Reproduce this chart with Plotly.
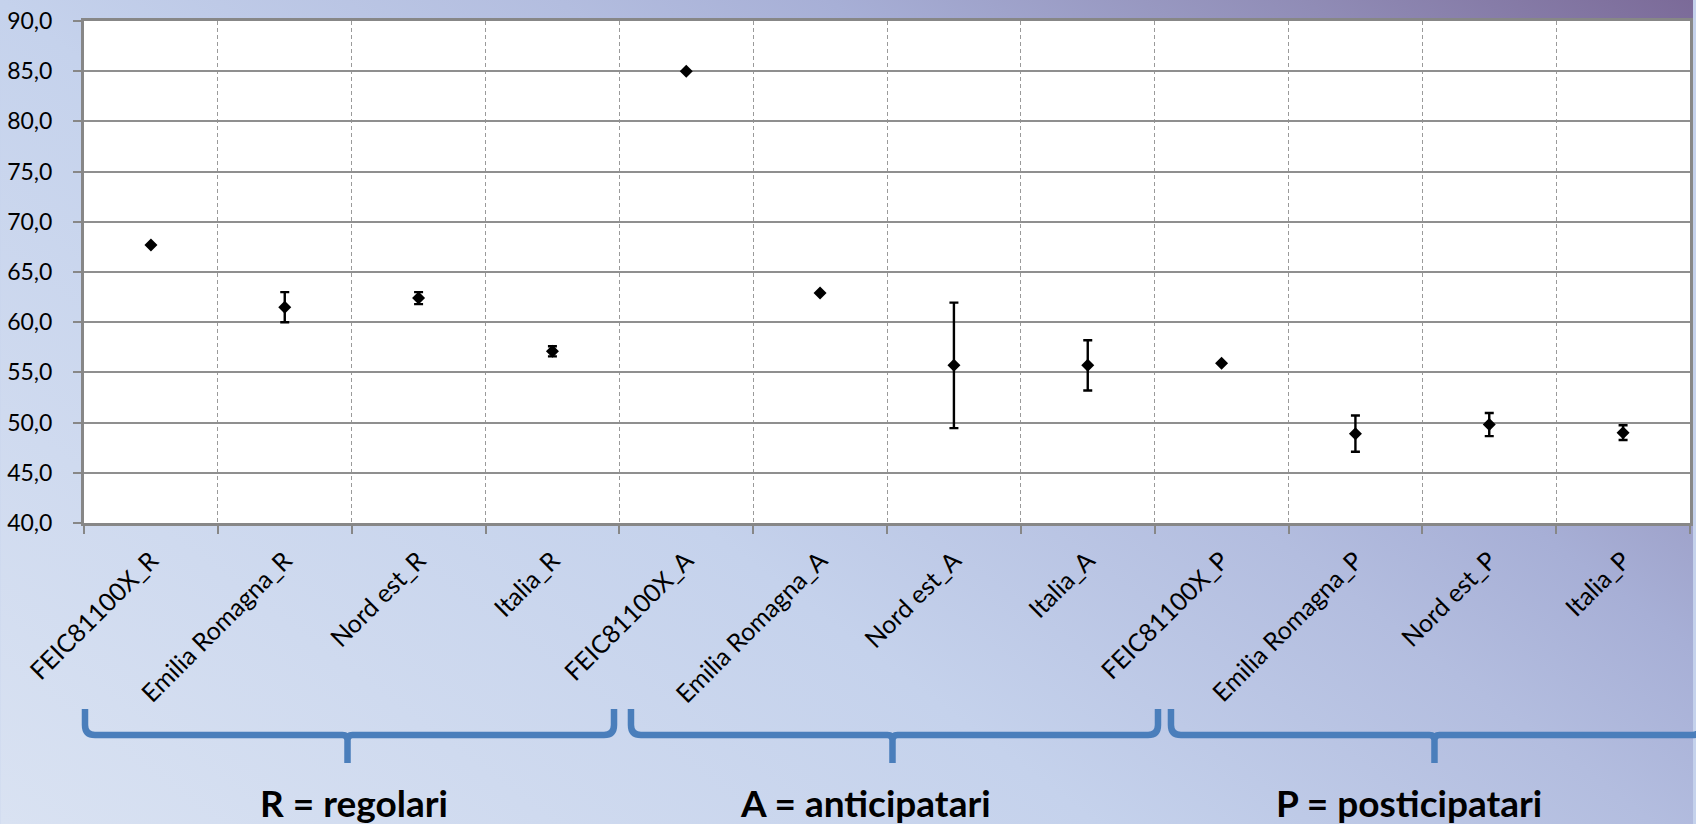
import base64
import plotly.graph_objects as go

# ---------------- data ----------------
categories = [
    "FEIC81100X_R", "Emilia Romagna_R", "Nord est_R", "Italia_R",
    "FEIC81100X_A", "Emilia Romagna_A", "Nord est_A", "Italia_A",
    "FEIC81100X_P", "Emilia Romagna_P", "Nord est_P", "Italia_P",
]
values = [67.7, 61.5, 62.4, 57.1, 85.0, 62.9, 55.7, 55.7, 55.9, 48.9, 49.8, 49.0]
errors = [0.0, 1.5, 0.6, 0.5, 0.0, 0.0, 6.25, 2.5, 0.0, 1.8, 1.15, 0.73]
group_labels = ["R = regolari", "A = anticipatari", "P = posticipatari"]

# ---------------- layout geometry ----------------
W, H = 1696, 824
ML, MR, MT, MB = 84, 3, 21, 301
PW, PH = W - ML - MR, H - MT - MB


def px_x(p):
    return (p - ML) / PW


def px_y(p):
    return (H - MB - p) / PH


# background gradient (page-like backdrop)
svg = f'''<svg xmlns="http://www.w3.org/2000/svg" width="{W}" height="{H}" viewBox="0 0 {W} {H}">
<defs><linearGradient id="g" gradientUnits="userSpaceOnUse" x1="0" y1="824" x2="1006" y2="-518">
<stop offset="0" stop-color="#d9e2f2"/>
<stop offset="0.393" stop-color="#c5d2ec"/>
<stop offset="0.593" stop-color="#b3bddf"/>
<stop offset="0.69" stop-color="#a7afd6"/>
<stop offset="0.86" stop-color="#908cb6"/>
<stop offset="1" stop-color="#7b6a98"/>
</linearGradient></defs>
<rect width="{W}" height="{H}" fill="url(#g)"/>
</svg>'''
bg_uri = "data:image/svg+xml;base64," + base64.b64encode(svg.encode()).decode()

fig = go.Figure()
fig.add_trace(go.Scatter(
    x=categories, y=values, mode="markers",
    marker=dict(symbol="diamond", size=10, color="black"),
    error_y=dict(type="data", array=errors, symmetric=True,
                 color="black", thickness=2.4, width=4.5),
    showlegend=False, hoverinfo="x+y",
))


def brace_path(xl, xr, xm, ytop=709, ybar=735, ytip=763, r=10, r2=5):
    def P(x, y):
        return f"{px_x(x):.6f},{px_y(y):.6f}"
    return (
        f"M {P(xl, ytop)} L {P(xl, ybar - r)} Q {P(xl, ybar)} {P(xl + r, ybar)} "
        f"L {P(xm - r2, ybar)} Q {P(xm, ybar)} {P(xm, ybar + r2)} L {P(xm, ytip)} "
        f"M {P(xm, ybar + r2)} Q {P(xm, ybar)} {P(xm + r2, ybar)} "
        f"L {P(xr - r, ybar)} Q {P(xr, ybar)} {P(xr, ybar - r)} L {P(xr, ytop)}"
    )


braces = [(85, 615, 348), (632, 1160, 894), (1173, 1705, 1437)]
label_x = [355, 867, 1411]

shapes = [dict(type="rect", xref="paper", yref="paper", x0=0, x1=1, y0=0, y1=1,
               fillcolor="white", line=dict(width=0), layer="below")]
for xl, xr, xm in braces:
    shapes.append(dict(type="path", xref="paper", yref="paper",
                       path=brace_path(xl, xr, xm),
                       line=dict(color="#4a7ebb", width=6.5)))

annotations = []
for lx, txt in zip(label_x, group_labels):
    annotations.append(dict(
        xref="paper", yref="paper", x=px_x(lx), y=px_y(802),
        xanchor="center", yanchor="middle", showarrow=False, text=txt,
        font=dict(family="Lato", size=37, color="black", weight="bold"),
    ))

fig.update_layout(
    width=W, height=H,
    margin=dict(l=ML, r=MR, t=MT, b=MB, pad=0),
    paper_bgcolor="#c5d2ec",
    plot_bgcolor="rgba(0,0,0,0)",
    separators=",.",
    font=dict(family="Lato", size=21, color="black"),
    shapes=shapes,
    annotations=annotations,
    images=[dict(source=bg_uri, xref="paper", yref="paper",
                 x=-ML / PW, y=1 + MT / PH, sizex=W / PW, sizey=H / PH,
                 xanchor="left", yanchor="top", sizing="stretch", layer="below")],
    xaxis=dict(
        type="category", range=[-0.5, 11.5],
        tickson="boundaries", ticks="outside", ticklen=8, tickwidth=2, tickcolor="#878787",
        showgrid=True, gridcolor="#9a9a9a", gridwidth=1, griddash="4px,3px",
        showline=True, linecolor="#878787", linewidth=3, mirror=True,
        tickangle=-45, tickfont=dict(family="Lato", size=25, color="black"),
        ticklabelstandoff=10, ticklabelshift=0,
    ),
    yaxis=dict(
        range=[40, 90], dtick=5, tick0=40, tickformat=".1f",
        ticks="outside", ticklen=8, tickwidth=2, tickcolor="#878787",
        showgrid=True, gridcolor="#8f8f8f", gridwidth=2,
        showline=True, linecolor="#878787", linewidth=3, mirror=True,
        zeroline=False,
        tickfont=dict(family="Lato", size=23, color="black"),
        ticklabelstandoff=16,
    ),
)

fig.write_html(
    "out.html",
    config={"displayModeBar": False},
    post_script="document.body.style.margin='0';document.body.style.overflow='hidden';",
)
